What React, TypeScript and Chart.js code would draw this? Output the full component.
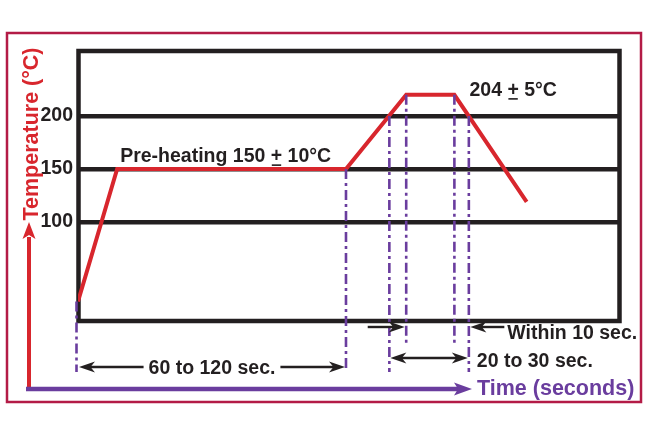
import React, { useEffect, useRef } from "react";
import { Chart, registerables } from "chart.js";

Chart.register(...registerables);

// ---- data (time in seconds, temperature in °C) ----
const timeSec = [0, 13, 89, 109, 125, 149];
const tempC = [25, 150, 150, 220, 220, 119];
const yTickValues = [100, 150, 200];
const yMin = 6.6;
const yMax = 262.3;
const xMin = 0;
const xMax = 180;

// purple dash-dot marker lines
const markerTimes = [0, 89, 103.4, 109, 125, 129.8];
const markerTopTemps = [25, 150, 200, 220, 220, 200];
const markerLong = [true, true, true, false, false, true];

// annotation texts
const preheatLabel = ["Pre-heating 150 ", "+", " 10°C"];
const preheatLabelAt = [14, 156.5];
const peakLabel = ["204 ", "+", " 5°C"];
const peakLabelAt = [130, 219];

const preheatSpan = [0, 89];
const preheatSpanLabel = "60 to 120 sec.";
const peakSpan = [103.4, 129.8];
const peakSpanLabel = "20 to 30 sec.";
const withinSpan = [109, 129.8];
const withinSpanLabel = "Within 10 sec.";

const xTitle = "Time (seconds)";
const yTitle = "Temperature (°C)";

// ---- styles ----
const FONT = '"Liberation Sans", Arial, Helvetica, sans-serif';
const BLACK = "#231f20";
const RED = "#d8262d";
const PURPLE = "#6a3d9e";
const MAROON = "#b31b46";

function arrowHead(ctx: CanvasRenderingContext2D, tx: number, ty: number, angle: number, len: number, half: number, notch: number, color: string) {
  ctx.save();
  ctx.translate(tx, ty);
  ctx.rotate(angle);
  ctx.fillStyle = color;
  ctx.beginPath();
  ctx.moveTo(0, 0);
  ctx.lineTo(-len, -half);
  ctx.lineTo(-len + notch, 0);
  ctx.lineTo(-len, half);
  ctx.closePath();
  ctx.fill();
  ctx.restore();
}

function line(ctx: CanvasRenderingContext2D, x1: number, y1: number, x2: number, y2: number) {
  ctx.beginPath();
  ctx.moveTo(x1, y1);
  ctx.lineTo(x2, y2);
  ctx.stroke();
}

function drawPlusText(ctx: CanvasRenderingContext2D, parts: string[], x: number, y: number) {
  let cx = x;
  parts.forEach((p, i) => {
    ctx.fillText(p, cx, y);
    const w = ctx.measureText(p).width;
    if (i === 1) {
      ctx.save();
      ctx.strokeStyle = BLACK;
      ctx.lineWidth = 1.6;
      line(ctx, cx + 1, y + 3, cx + w - 1, y + 3);
      ctx.restore();
    }
    cx += w;
  });
}

const diagramPlugin = {
  id: "diagram",
  beforeDatasetsDraw(chart: any) {
    const { ctx, chartArea: a } = chart;
    ctx.save();
    ctx.strokeStyle = BLACK;
    ctx.lineWidth = 4.5;
    ctx.strokeRect(a.left + 0.5, a.top + 1, a.right - a.left - 1, a.bottom - a.top - 1);
    ctx.restore();
  },
  afterDatasetsDraw(chart: any) {
    const { ctx, chartArea: a, scales } = chart;
    const xs = scales.x;
    const ys = scales.y;
    const px = (t: number) => xs.getPixelForValue(t);
    const py = (v: number) => ys.getPixelForValue(v);
    ctx.save();

    // outer frame
    ctx.strokeStyle = MAROON;
    ctx.lineWidth = 2.5;
    ctx.strokeRect(a.left - 71, a.top - 17, a.right - a.left + 92, a.bottom - a.top + 98);

    // dash-dot marker lines
    ctx.strokeStyle = PURPLE;
    ctx.lineWidth = 2.6;
    ctx.setLineDash([10, 4, 3, 4]);
    markerTimes.forEach((t, i) => {
      const x = i === 0 ? px(t) - 1.5 : px(t);
      const yTop = py(markerTopTemps[i]);
      const yBot = a.bottom + (markerLong[i] ? 51 : 24);
      line(ctx, x, yTop, x, yBot);
    });
    ctx.setLineDash([]);

    // texts on plot
    ctx.fillStyle = BLACK;
    ctx.font = `bold 19.5px ${FONT}`;
    ctx.textBaseline = "alphabetic";
    ctx.textAlign = "left";
    drawPlusText(ctx, preheatLabel, px(preheatLabelAt[0]), py(preheatLabelAt[1]));
    drawPlusText(ctx, peakLabel, px(peakLabelAt[0]), py(peakLabelAt[1]));

    // dimension arrows
    ctx.strokeStyle = BLACK;
    ctx.lineWidth = 2.4;
    const AL = 16, AH = 5.5, AN = 4.5;
    // 60 to 120 sec.
    {
      const y = a.bottom + 46;
      const x1 = px(preheatSpan[0]) + 1;
      const x2 = px(preheatSpan[1]) - 1;
      const w = ctx.measureText(preheatSpanLabel).width;
      const cx = (x1 + x2) / 2;
      const t1 = cx - w / 2;
      ctx.textAlign = "left";
      ctx.fillText(preheatSpanLabel, t1, y + 7);
      line(ctx, x1 + 8, y, t1 - 5, y);
      line(ctx, t1 + w + 5, y, x2 - 8, y);
      arrowHead(ctx, x1, y, Math.PI, AL, AH, AN, BLACK);
      arrowHead(ctx, x2, y, 0, AL, AH, AN, BLACK);
    }
    // 20 to 30 sec.
    {
      const y = a.bottom + 37;
      const x1 = px(peakSpan[0]) + 1;
      const x2 = px(peakSpan[1]) - 1;
      line(ctx, x1 + 8, y, x2 - 8, y);
      arrowHead(ctx, x1, y, Math.PI, AL, AH, AN, BLACK);
      arrowHead(ctx, x2, y, 0, AL, AH, AN, BLACK);
      ctx.fillText(peakSpanLabel, x2 + 9, y + 9);
    }
    // Within 10 sec.
    {
      const y = a.bottom + 6;
      const x1 = px(withinSpan[0]) - 1.5;
      const x2 = px(withinSpan[1]) + 1.5;
      line(ctx, x1 - 37, y, x1 - 8, y);
      arrowHead(ctx, x1, y, 0, AL, AH, AN, BLACK);
      line(ctx, x2 + 8, y, x2 + 34, y);
      arrowHead(ctx, x2, y, Math.PI, AL, AH, AN, BLACK);
      ctx.fillText(withinSpanLabel, x2 + 37, y + 12);
    }

    // axis arrows
    const axX = a.left - 49;
    const axY = a.bottom + 68;
    ctx.strokeStyle = RED;
    ctx.lineWidth = 4;
    line(ctx, axX, axY + 2, axX, a.bottom - 84);
    arrowHead(ctx, axX, a.bottom - 99, -Math.PI / 2, 17, 6.5, 4, RED);
    ctx.strokeStyle = PURPLE;
    ctx.lineWidth = 4.5;
    line(ctx, axX - 3, axY, a.left + 380, axY);
    arrowHead(ctx, a.left + 394, axY, 0, 18, 6.5, 4, PURPLE);

    // axis titles
    ctx.font = `bold 21.5px ${FONT}`;
    ctx.fillStyle = PURPLE;
    ctx.textAlign = "left";
    ctx.fillText(xTitle, a.left + 399, axY + 6);
    ctx.fillStyle = RED;
    ctx.save();
    ctx.translate(a.left - 40, a.top + 84);
    ctx.rotate(-Math.PI / 2);
    ctx.textAlign = "center";
    ctx.fillText(yTitle, 0, 0);
    ctx.restore();

    ctx.restore();
  },
};

export default function App() {
  const ref = useRef<HTMLCanvasElement | null>(null);
  useEffect(() => {
    if (!ref.current) return;
    const chart = new Chart(ref.current, {
      type: "line",
      data: {
        datasets: [
          {
            data: timeSec.map((t, i) => ({ x: t, y: tempC[i] })),
            borderColor: RED,
            borderWidth: 4,
            pointRadius: 0,
            tension: 0,
            fill: false,
            borderJoinStyle: "miter",
          },
        ],
      },
      options: {
        animation: false,
        responsive: false,
        devicePixelRatio: 1,
        layout: { padding: { left: 0, top: 50, right: 28, bottom: 111 } },
        plugins: { legend: { display: false }, tooltip: { enabled: false } },
        scales: {
          x: { type: "linear", min: xMin, max: xMax, display: false },
          y: {
            type: "linear",
            min: yMin,
            max: yMax,
            afterBuildTicks: (scale: any) => {
              scale.ticks = yTickValues.map((v) => ({ value: v }));
            },
            afterFit: (scale: any) => {
              scale.width = 78;
            },
            border: { display: false },
            grid: { color: BLACK, lineWidth: 4.5, drawTicks: false },
            ticks: {
              color: BLACK,
              padding: 5,
              font: { family: FONT, size: 19.5, weight: "bold" },
              callback: (v: any) => String(v),
            },
          },
        },
      },
      plugins: [diagramPlugin],
    } as any);
    return () => chart.destroy();
  }, []);
  return (
    <div style={{ position: "absolute", left: 0, top: 0, width: 648, height: 432, background: "#fff" }}>
      <canvas ref={ref} width={648} height={432} style={{ width: 648, height: 432 }} />
    </div>
  );
}
